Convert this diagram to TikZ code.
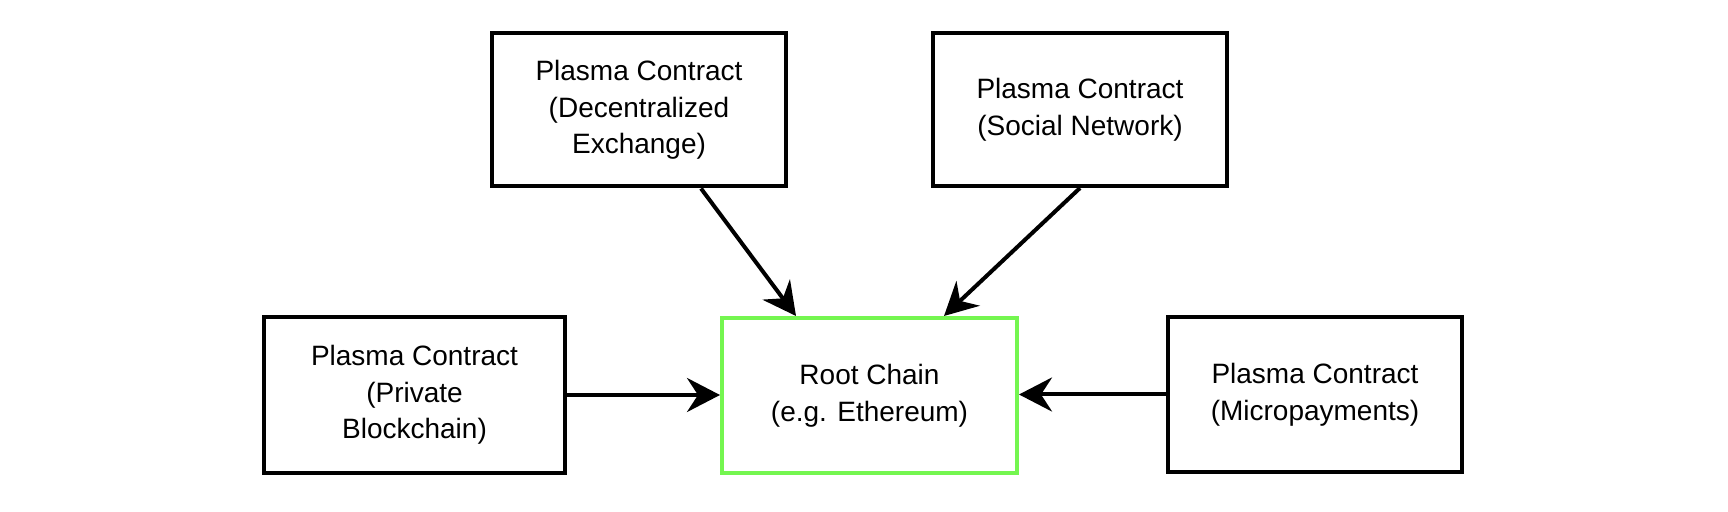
\documentclass[tikz,border=0pt]{standalone}
\usepackage{fontspec}
\setmainfont{Liberation Sans}
\usetikzlibrary{arrows.meta}
\definecolor{rootgreen}{RGB}{116,246,80}
\begin{document}
\begin{tikzpicture}[x=1pt,y=1pt,
  box/.style={draw=black, line width=2pt, fill=white, align=center,
    font=\fontsize{14}{18.3}\selectfont, inner sep=0pt},
  conn/.style={line width=2pt, -{Stealth[length=16.5pt,width=17pt,inset=5.5pt]}}]
\useasboundingbox (0,0) rectangle (864,-256);
\node[box, minimum width=147pt, minimum height=76.5pt] (A) at (319.5,-55) {Plasma Contract\\(Decentralized\\Exchange)};
\node[box, minimum width=147pt, minimum height=76.5pt] (B) at (540,-54.75) {Plasma Contract\\(Social Network)};
\node[box, minimum width=150.5pt, minimum height=78pt] (C) at (207.25,-197.5) {Plasma Contract\\(Private\\Blockchain)};
\node[box, draw=rootgreen, minimum width=147.5pt, minimum height=77.5pt] (root) at (434.75,-197.75) {Root Chain\\(e.g. Ethereum)};
\node[box, minimum width=147pt, minimum height=77.5pt] (D) at (657.5,-197.25) {Plasma Contract\\(Micropayments)};
\draw[conn] ([xshift=31pt]A.south) -- ([xshift=-36.75pt]root.north);
\draw[conn] (B.south) -- ([xshift=37.25pt]root.north);
\draw[conn] (C.east) -- (C.east -| root.west);
\draw[conn] (D.west) -- (D.west -| root.east);
\end{tikzpicture}
\end{document}
